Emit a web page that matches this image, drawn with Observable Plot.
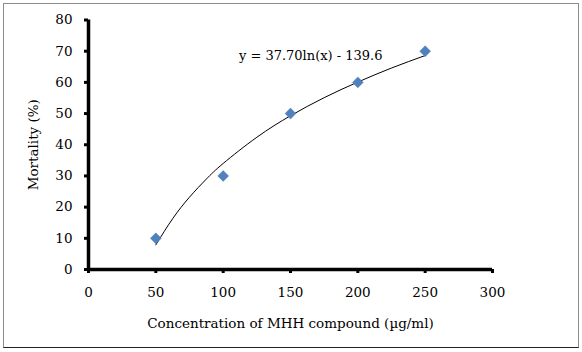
<!DOCTYPE html>
<html><head><meta charset="utf-8">
<script src="https://cdn.jsdelivr.net/npm/d3@7"></script>
<script src="https://cdn.jsdelivr.net/npm/@observablehq/plot@0.6"></script>
<style>
html,body{margin:0;padding:0;background:#fff;}
#wrap{position:relative;width:582px;height:352px;overflow:hidden;}
#frame{position:absolute;left:3px;top:3px;width:574px;height:343px;border:1px solid #8c8c8c;border-bottom-color:#222;pointer-events:none;}
#chart{position:absolute;left:0;top:0;}
</style></head>
<body><div id="wrap"><div id="chart"></div><div id="frame"></div></div>
<script>
const concentration = [50, 100, 150, 200, 250];
const mortality = [10, 30, 50, 60, 70];
// trendline values
const trendX = [50, 62.5, 75, 87.5, 100, 125, 150, 175, 200, 225, 250];
const trendY = [7.9, 16.3, 23.2, 29.0, 34.0, 42.4, 49.3, 55.1, 60.1, 64.6, 68.6];
const xTicks = [0, 50, 100, 150, 200, 250, 300];
const yTicks = [0, 10, 20, 30, 40, 50, 60, 70, 80];
const equationLabel = ["y = 37.70ln(x) - 139.6"];
const equationPos = [{x: 165, y: 68.6}];

const points = concentration.map((c, i) => ({x: c, y: mortality[i]}));
const trend = trendX.map((c, i) => ({x: c, y: trendY[i]}));
const ann = equationPos.map((p, i) => ({...p, text: equationLabel[i]}));

const font = "'DejaVu Serif', serif";
const chart = Plot.plot({
  width: 582, height: 352,
  marginLeft: 88, marginRight: 90, marginTop: 19.5, marginBottom: 83,
  style: {fontFamily: font, fontSize: "13.5px", color: "#000", background: "transparent"},
  x: {domain: [0, 300]},
  y: {domain: [0, 80]},
  marks: [
    Plot.axisY({ticks: yTicks, tickSize: 4, tickPadding: 12, strokeWidth: 3, label: "Mortality (%)", labelAnchor: "center", labelArrow: "none", labelOffset: 60, fontSize: 13.5}),
    Plot.axisX({ticks: xTicks, tickSize: 4, tickPadding: 14, strokeWidth: 3, label: "Concentration of MHH compound (µg/ml)", labelAnchor: "center", labelArrow: "none", labelOffset: 58, fontSize: 13.5}),
    Plot.ruleX([0], {stroke: "#000", strokeWidth: 3.5}),
    Plot.ruleY([0], {stroke: "#000", strokeWidth: 3.5}),
    Plot.line(trend, {x: "x", y: "y", curve: "natural", stroke: "#000", strokeWidth: 1}),
    Plot.dot(points, {x: "x", y: "y", symbol: "diamond2", r: 4.9, fill: "#4F81BD", stroke: "#4F81BD", strokeWidth: 0.5}),
    Plot.text(ann, {x: "x", y: "y", text: "text", fontSize: 13, fill: "#000"})
  ]
});
document.getElementById("chart").appendChild(chart);
</script></body></html>
